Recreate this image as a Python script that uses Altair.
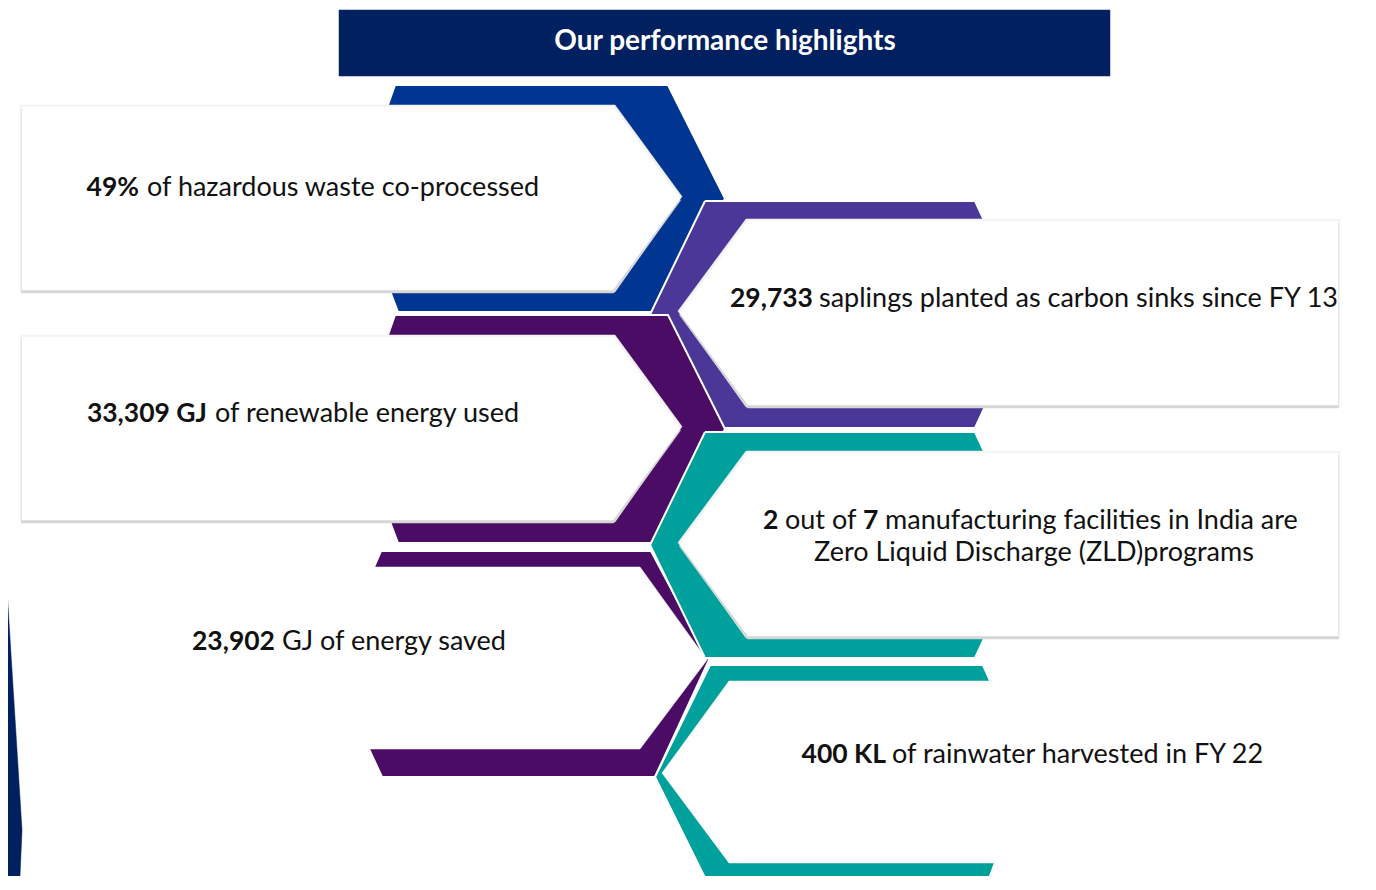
import altair as alt
import pandas as pd

# ---------------- content ----------------
title_text = "Our performance highlights"
highlight_values = ["49%", "29,733", "33,309 GJ", "23,902", "400 KL"]
highlight_labels = [
    "of hazardous waste co-processed",
    "saplings planted as carbon sinks since FY 13",
    "of renewable energy used",
    "GJ of energy saved",
    "of rainwater harvested in FY 22",
]
zld_parts = ["2", "out of", "7", "manufacturing facilities in India are"]
zld_bold = [True, False, True, False]
zld_line2 = "Zero Liquid Discharge (ZLD)programs"

# ---------------- layout (image pixel space) ----------------
W, H = 1360, 868
X0, Y0 = 8, 8          # page margin offset
FONT = "Lato"
FS = 27.0
FSB = 26.5

NAVY = "#002060"
BLUE = "#003592"
PURPLE = "#4B3797"
DPURPLE = "#4A0C64"
TEAL = "#00A19C"


def block_left(y0, y1, end_x=395, corner_x=668, tip_x=725):
    ym = (y0 + y1) / 2
    return [(end_x, y0), (corner_x, y0), (tip_x, ym), (corner_x, y1),
            (end_x + 3, y1), (end_x - 40, ym)]


def box_left(y0, y1, x0=22, corner_x=613, tip_x=680):
    ym = (y0 + y1) / 2
    return [(x0, y0), (corner_x, y0), (tip_x, ym), (corner_x, y1), (x0, y1)]


def block_right(y0, y1, corner_x=705, tip_x=650, end_x=975, end_tip=1028):
    ym = (y0 + y1) / 2
    return [(corner_x, y0), (end_x, y0), (end_tip, ym), (end_x, y1),
            (corner_x, y1), (tip_x, ym)]


def box_right(y0, y1, corner_x=748, x1=1338, tip_x=680):
    ym = (y0 + y1) / 2
    return [(corner_x, y0), (x1, y0), (x1, y1), (corner_x, y1), (tip_x, ym)]


def grow(poly, d, dy=0.0):
    cx = sum(p[0] for p in poly) / len(poly)
    cy = sum(p[1] for p in poly) / len(poly)
    out = []
    for x, y in poly:
        sx = d if x > cx else -d
        sy = d if y > cy else -d
        out.append((x + sx, y + sy + dy))
    return out


shapes = []  # (polygon, fill, stroke width)


def add(poly, fill, sw=0.0):
    shapes.append((poly, fill, sw))


def add_box(poly):
    add(grow(poly, 2.0), "#f4f4f4")
    add(grow(poly, 0.5, 2.5), "#d6d6d6")
    add(poly, "#ffffff")


# left sliver
add([(0, 478), (22, 830), (19, 900), (0, 900)], NAVY)
# title banner
add([(339, 10), (1110, 10), (1110, 76), (339, 76)], NAVY)
# block 1
add(block_left(85, 312), BLUE, 2)
add_box(box_left(107, 290))
# block 2
add(block_right(201, 428), PURPLE, 2)
add_box(box_right(221, 405))
# block 3
add(block_left(315, 543), DPURPLE, 2)
add_box(box_left(337, 520))
# block 5
add([(381, 551), (651, 551), (709, 660), (655, 777), (382, 777), (369, 749),
     (355, 660), (374, 567)], DPURPLE, 2)
add([(300, 567), (640, 567), (707, 660), (640, 749), (300, 749)], "#ffffff")
# block 4
add(block_right(432, 658), TEAL, 2)
add_box(box_right(453, 636))
# block 6
add([(710, 665), (983, 665), (1030, 770), (981, 900), (716, 900), (655, 777)],
    TEAL, 2)
add([(729, 681), (1100, 681), (1100, 863), (729, 863), (662, 773)], "#ffffff")

rows = []
for pid, (poly, fill, sw) in enumerate(shapes):
    pts = list(poly) + [poly[0]]
    for k, (x, y) in enumerate(pts):
        rows.append({"pid": pid, "k": k, "x": x, "y": y})
poly_df = pd.DataFrame(rows)

xs = alt.Scale(domain=[X0, X0 + W], nice=False, zero=False)
ys = alt.Scale(domain=[Y0, Y0 + H], nice=False, zero=False, reverse=True)

base = alt.Chart(poly_df)
layers = []
for pid, (poly, fill, sw) in enumerate(shapes):
    mk = dict(fill=fill, clip=True, strokeJoin="miter")
    if sw > 0:
        mk.update(stroke="#ffffff", strokeWidth=sw)
    else:
        mk.update(stroke=fill, strokeWidth=0.5)
    layers.append(
        base.transform_filter(alt.datum.pid == pid)
        .mark_line(**mk)
        .encode(
            x=alt.X("x:Q", scale=xs, axis=None),
            y=alt.Y("y:Q", scale=ys, axis=None),
            order=alt.Order("k:Q"),
        )
    )

# ---------------- text ----------------
value_right_x = [139, 813, 207, 275, 886]
label_left_x = [147, 819, 215, 282, 892]
text_base_y = [196, 307, 422, 650, 763]
zld_x = [763, 785, 863, 885]
zld_y = [529, 561]
zld_center_x = 1034

trows = []
for v, l, xr, xl, yb in zip(highlight_values, highlight_labels,
                            value_right_x, label_left_x, text_base_y):
    trows.append({"t": v, "x": xr, "y": yb, "style": "bold_right"})
    trows.append({"t": l, "x": xl, "y": yb, "style": "reg_left"})
for t, b, x in zip(zld_parts, zld_bold, zld_x):
    trows.append({"t": t, "x": x, "y": zld_y[0],
                  "style": "bold_left" if b else "reg_left"})
trows.append({"t": zld_line2, "x": zld_center_x, "y": zld_y[1],
              "style": "reg_center"})
trows.append({"t": title_text, "x": 725, "y": 50, "style": "title"})
text_df = pd.DataFrame(trows)

styles = {
    "bold_right": dict(align="right", fontWeight="bold", color="#111111", fontSize=FSB),
    "bold_left": dict(align="left", fontWeight="bold", color="#111111", fontSize=FSB),
    "reg_left": dict(align="left", fontWeight="normal", color="#111111", fontSize=FS),
    "reg_center": dict(align="center", fontWeight="normal", color="#111111", fontSize=FS),
    "title": dict(align="center", fontWeight="bold", color="#ffffff", fontSize=28),
}
tbase = alt.Chart(text_df)
for st, props in styles.items():
    layers.append(
        tbase.transform_filter(alt.datum.style == st)
        .mark_text(font=FONT, baseline="alphabetic", **props)
        .encode(
            x=alt.X("x:Q", scale=xs, axis=None),
            y=alt.Y("y:Q", scale=ys, axis=None),
            text="t:N",
        )
    )

chart = (
    alt.layer(*layers)
    .properties(width=W, height=H, padding=0,
                autosize=alt.AutoSizeParams(type="none"), background="#ffffff")
    .configure_view(stroke=None)
)

chart.save("out.html", embed_options={"renderer": "svg", "actions": False})
